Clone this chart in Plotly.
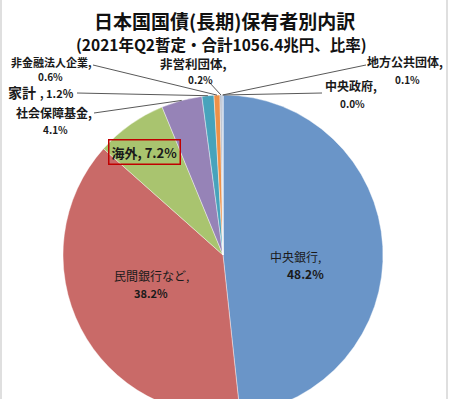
import numpy as np
import plotly.graph_objects as go

# ---- data ----
labels = ["中央銀行", "民間銀行など", "海外", "社会保障基金", "家計",
          "非金融法人企業", "非営利団体", "地方公共団体", "中央政府"]
shares = [48.2, 38.2, 7.2, 4.1, 1.2, 0.6, 0.2, 0.1, 0.0]
pct_text = ["48.2%", "38.2%", "7.2%", "4.1%", "1.2%", "0.6%", "0.2%", "0.1%", "0.0%"]
colors = ["#6A95C8", "#C96A68", "#A9C46F", "#9683B7", "#47A3BC",
          "#EE9148", "#A9B4C6", "#7F9CC4", "#C97B79"]

title_text = "日本国国債(長期)保有者別内訳"
subtitle_text = "(2021年Q2暫定・合計1056.4兆円、比率)"

# ---- geometry (pixels) ----
W, H = 449, 415
cx, cy, r = 223, 255, 160
FONT = "Noto Sans CJK JP"


def px(x):
    return x / W


def py(y):
    return 1 - y / H


fig = go.Figure(go.Pie(
    labels=labels, values=shares, sort=False, direction="clockwise", rotation=0,
    marker=dict(colors=colors, line=dict(color="white", width=0.4)),
    textinfo="none", hoverinfo="label+percent", showlegend=False,
    domain=dict(x=[px(cx - r), px(cx + r)], y=[py(cy + r), py(cy - r)]),
))

annotations = []
shapes = []


def ann(x, y, text, size, bold=False, xanchor="center", color="#1a1a1a", **kw):
    t = f"<b>{text}</b>" if bold else text
    d = dict(x=px(x), y=py(y), xref="paper", yref="paper", text=t, showarrow=False,
             font=dict(family=FONT, size=size, color=color),
             xanchor=xanchor, yanchor="middle")
    d.update(kw)
    annotations.append(d)


# titles
ann(224, 20, title_text, 19, bold=True, color="#111")
ann(221, 43.5, subtitle_text, 15.5, bold=True, color="#111", borderpad=0)

# inside labels
ann(295, 256, labels[0] + ",", 12)
ann(305, 273, pct_text[0], 12, bold=True)
ann(151, 275, labels[1] + ",", 12)
ann(151, 293, pct_text[1], 11, bold=True)
ann(144.5, 151.5, f"{labels[2]}, {pct_text[2]}", 13, bold=True,
    bordercolor="#C00000", borderwidth=1.5, borderpad=2)

# outside labels: (index, name xy, name size, pct xy)
outside = [
    (3, (54, 113), 12, (55, 129)),
    (5, (51, 62), 11, (50, 76)),
    (6, (193, 64), 12.5, (200, 80)),
    (7, (405, 62), 12, (407, 79)),
    (8, (351, 86), 12, (352, 104)),
]
for i, nxy, nsize, pxy in outside:
    ann(nxy[0], nxy[1], labels[i] + ",", nsize, bold=True, borderpad=0)
    ann(pxy[0], pxy[1], pct_text[i], 10, bold=True, borderpad=0)

# 家計 single line label
ann(38, 92, labels[4], 14, bold=True, xanchor="right")
ann(38, 93, ", " + pct_text[4], 11, bold=True, xanchor="left")

line_starts = {3: (94, 113), 4: (77, 93), 5: (93, 65), 6: (209, 82), 7: (366, 65), 8: (322, 93)}

# leader lines end at slice mid-angle on the rim
vals = np.array(shares, dtype=float)
cum = np.concatenate([[0], np.cumsum(vals)])
mid = (cum[:-1] + cum[1:]) / 2 / vals.sum() * 2 * np.pi
for i, (sx, sy) in line_starts.items():
    tx = cx + r * np.sin(mid[i])
    ty = cy - r * np.cos(mid[i])
    shapes.append(dict(type="line", xref="paper", yref="paper",
                       x0=px(sx), y0=py(sy), x1=px(tx), y1=py(ty),
                       line=dict(color="#595959", width=1)))

# frame lines
for xf in (1, 447):
    shapes.append(dict(type="line", xref="paper", yref="paper", x0=px(xf), x1=px(xf),
                       y0=0, y1=1, line=dict(color="#D4D4D4", width=1.5)))

fig.update_layout(width=W, height=H, margin=dict(l=0, r=0, t=0, b=0),
                  paper_bgcolor="white", plot_bgcolor="white",
                  annotations=annotations, shapes=shapes,
                  font=dict(family=FONT))

fig.write_html("out.html", config={"displayModeBar": False},
               post_script="document.body.style.margin='0';document.body.style.overflow='hidden';")
